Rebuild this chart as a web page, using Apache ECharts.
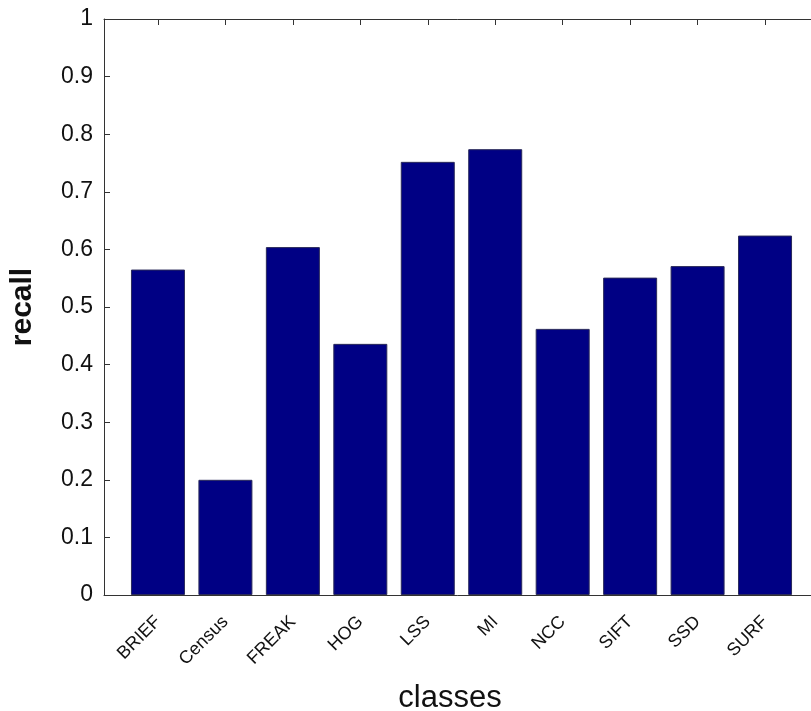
<!DOCTYPE html>
<html>
<head>
<meta charset="utf-8">
<script src="https://cdn.jsdelivr.net/npm/echarts@6/dist/echarts.min.js"></script>
<style>
  html, body { margin: 0; padding: 0; background: #fff; }
  #chart { width: 811px; height: 711px; }
</style>
</head>
<body>
<div id="chart"></div>
<script>
var classes = ["BRIEF", "Census", "FREAK", "HOG", "LSS", "MI", "NCC", "SIFT", "SSD", "SURF"];
var recall = [0.565, 0.200, 0.604, 0.436, 0.752, 0.774, 0.462, 0.551, 0.571, 0.624];
var positions = [1, 2, 3, 4, 5, 6, 7, 8, 9, 10];

var chart = echarts.init(document.getElementById("chart"));
var lineColor = "#333";
var fontFamily = "'Liberation Sans', Arial, sans-serif";

var option = {
  animation: false,
  backgroundColor: "#fff",
  grid: { left: 104, top: 19, width: 715, height: 576, outerBoundsMode: "none", containLabel: false },
  xAxis: [
    {
      type: "value",
      min: 0.2,
      max: 10.8,
      position: "bottom",
      name: "classes",
      nameLocation: "middle",
      nameGap: 88,
      nameTextStyle: { fontSize: 31, color: "#111", fontFamily: fontFamily, padding: [0, 23, 0, 0] },
      splitLine: { show: false },
      axisLine: { show: true, lineStyle: { color: lineColor, width: 1 } },
      axisTick: { show: true, inside: true, length: 6, customValues: positions, lineStyle: { color: lineColor } },
      axisLabel: {
        customValues: positions,
        rotate: 45,
        margin: 24,
        fontSize: 18,
        color: "#111",
        fontFamily: fontFamily,
        formatter: function (v) { return classes[Math.round(v) - 1]; }
      }
    },
    {
      type: "value",
      min: 0.2,
      max: 10.8,
      position: "top",
      splitLine: { show: false },
      axisLine: { show: true, onZero: false, lineStyle: { color: lineColor, width: 1 } },
      axisTick: { show: true, inside: true, length: 6, customValues: positions, lineStyle: { color: lineColor } },
      axisLabel: { show: false }
    }
  ],
  yAxis: [
    {
      type: "value",
      min: 0,
      max: 1,
      interval: 0.1,
      name: "recall",
      nameLocation: "middle",
      nameGap: 66,
      nameTextStyle: { fontSize: 30, fontWeight: "bold", color: "#111", fontFamily: fontFamily },
      splitLine: { show: false },
      axisLine: { show: true, lineStyle: { color: lineColor, width: 1 } },
      axisTick: { show: true, inside: true, length: 6, lineStyle: { color: lineColor } },
      axisLabel: {
        margin: 11,
        fontSize: 23,
        color: "#111",
        fontFamily: fontFamily,
        formatter: function (v) {
          var t = Math.round(v * 10) / 10;
          return (t === 0 || t === 1) ? String(t) : t.toFixed(1);
        }
      }
    },
    {
      type: "value",
      min: 0,
      max: 1,
      interval: 0.1,
      position: "right",
      splitLine: { show: false },
      axisLine: { show: true, onZero: false, lineStyle: { color: lineColor, width: 1 } },
      axisTick: { show: true, inside: true, length: 6, lineStyle: { color: lineColor } },
      axisLabel: { show: false }
    }
  ],
  series: [
    {
      type: "bar",
      xAxisIndex: 0,
      yAxisIndex: 0,
      barWidth: 54,
      data: positions.map(function (p, i) { return [p, recall[i]]; }),
      itemStyle: { color: "#000084", borderColor: "#2a2a5a", borderWidth: 1 }
    }
  ]
};

chart.setOption(option);
window.addEventListener("resize", function () {
  chart.resize();
});
</script>
</body>
</html>
